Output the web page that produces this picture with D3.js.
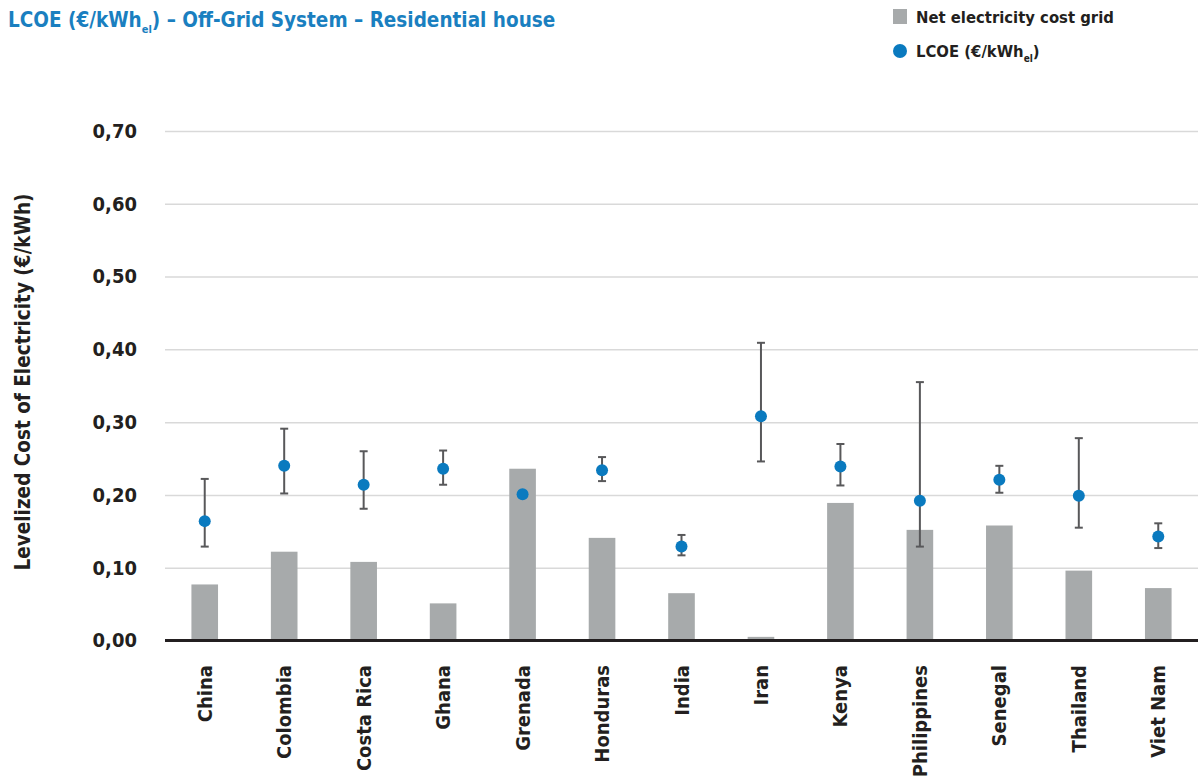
<!DOCTYPE html>
<html>
<head>
<meta charset="utf-8">
<script src="https://cdn.jsdelivr.net/npm/d3@7"></script>
<style>
  body { margin: 0; background: #fff; }
  svg text { font-family: 'Liberation Sans Narrow', 'DejaVu Sans Condensed', Roboto, sans-serif; font-weight: bold; }
</style>
</head>
<body>
<svg id="chart" width="1198" height="780"></svg>
<script>
var countries = ['China', 'Colombia', 'Costa Rica', 'Ghana', 'Grenada', 'Honduras', 'India',
                 'Iran', 'Kenya', 'Philippines', 'Senegal', 'Thailand', 'Viet Nam'];
var gridCost = [0.077, 0.122, 0.108, 0.051, 0.236, 0.141, 0.065, 0.005, 0.189, 0.152, 0.158, 0.096, 0.072];
var lcoe     = [0.164, 0.240, 0.214, 0.236, 0.201, 0.234, 0.129, 0.308, 0.239, 0.192, 0.221, 0.199, 0.143];
var lcoeLow  = [0.129, 0.202, 0.181, 0.214, null, 0.219, 0.117, 0.246, 0.213, 0.129, 0.203, 0.155, 0.127];
var lcoeHigh = [0.222, 0.291, 0.260, 0.261, null, 0.252, 0.145, 0.409, 0.270, 0.355, 0.240, 0.278, 0.161];
var yTicks = [0, 0.1, 0.2, 0.3, 0.4, 0.5, 0.6, 0.7];

var blue = '#0a7abf', grey = '#a7aaab', ink = '#231f20';
var svg = d3.select('#chart');
var plotL = 165, plotR = 1198, plotT = 131, plotB = 640.5;

var x = d3.scaleBand().domain(countries).range([plotL, plotR]).padding(0);
var y = d3.scaleLinear().domain([0, 0.7]).range([plotB, plotT]);
var barW = x.bandwidth() * 0.335;

// title
var title = svg.append('text').attr('x', 8).attr('y', 27).attr('fill', '#1a7fc0').style('font-size', '20.5px');
title.append('tspan').text('LCOE (€/kWh');
title.append('tspan').attr('dy', 6).style('font-size', '11px').text('el');
title.append('tspan').attr('dy', -6).text(') – Off-Grid System – Residential house');

// legend
svg.append('rect').attr('x', 893).attr('y', 9).attr('width', 14).attr('height', 15).attr('fill', grey);
svg.append('text').attr('x', 916).attr('y', 23).attr('fill', ink).style('font-size', '16.5px')
    .text('Net electricity cost grid');
svg.append('circle').attr('cx', 900).attr('cy', 51).attr('r', 7).attr('fill', blue);
var leg2 = svg.append('text').attr('x', 916).attr('y', 57).attr('fill', ink).style('font-size', '16.5px');
leg2.append('tspan').text('LCOE (€/kWh');
leg2.append('tspan').attr('dy', 5).style('font-size', '10px').text('el');
leg2.append('tspan').attr('dy', -5).text(')');

// y axis + gridlines
var yAxis = svg.append('g').attr('transform', 'translate(' + plotL + ',0)')
    .call(d3.axisLeft(y).tickValues(yTicks).tickSize(-(plotR - plotL)).tickPadding(28)
        .tickFormat(function (d) { return d3.format('.2f')(d).replace('.', ','); }));
yAxis.select('.domain').remove();
yAxis.selectAll('line').attr('stroke', '#d9d9d9').attr('stroke-width', 1.5);
yAxis.selectAll('text').attr('fill', ink).style('font-size', '20px');

svg.append('text')
    .attr('transform', 'translate(30,382) rotate(-90)')
    .attr('text-anchor', 'middle').attr('fill', ink).style('font-size', '20.5px')
    .text('Levelized Cost of Electricity (€/kWh)');

// bars
svg.append('g').selectAll('rect').data(countries).join('rect')
    .attr('x', function (d) { return x(d) + x.bandwidth() / 2 - barW / 2; })
    .attr('y', function (d, i) { return y(gridCost[i]); })
    .attr('width', barW)
    .attr('height', function (d, i) { return y(0) - y(gridCost[i]); })
    .attr('fill', grey);

// baseline
svg.append('line').attr('x1', plotL).attr('x2', plotR).attr('y1', y(0)).attr('y2', y(0))
    .attr('stroke', ink).attr('stroke-width', 3);

// error bars
var err = svg.append('g').attr('stroke', '#58585a').attr('stroke-width', 2);
countries.forEach(function (c, i) {
    if (lcoeLow[i] == null) return;
    var cx = x(c) + x.bandwidth() / 2;
    err.append('line').attr('x1', cx).attr('x2', cx).attr('y1', y(lcoeLow[i])).attr('y2', y(lcoeHigh[i]));
    err.append('line').attr('x1', cx - 4).attr('x2', cx + 4).attr('y1', y(lcoeLow[i])).attr('y2', y(lcoeLow[i]));
    err.append('line').attr('x1', cx - 4).attr('x2', cx + 4).attr('y1', y(lcoeHigh[i])).attr('y2', y(lcoeHigh[i]));
});

// dots
svg.append('g').selectAll('circle').data(countries).join('circle')
    .attr('cx', function (d) { return x(d) + x.bandwidth() / 2; })
    .attr('cy', function (d, i) { return y(lcoe[i]); })
    .attr('r', 6)
    .attr('fill', blue);

// category labels
svg.append('g').selectAll('text').data(countries).join('text')
    .attr('transform', function (d) { return 'translate(' + (x(d) + x.bandwidth() / 2 + 7) + ',665) rotate(-90)'; })
    .attr('text-anchor', 'end').attr('fill', ink).style('font-size', '20px')
    .text(function (d) { return d; });
</script>
</body>
</html>
